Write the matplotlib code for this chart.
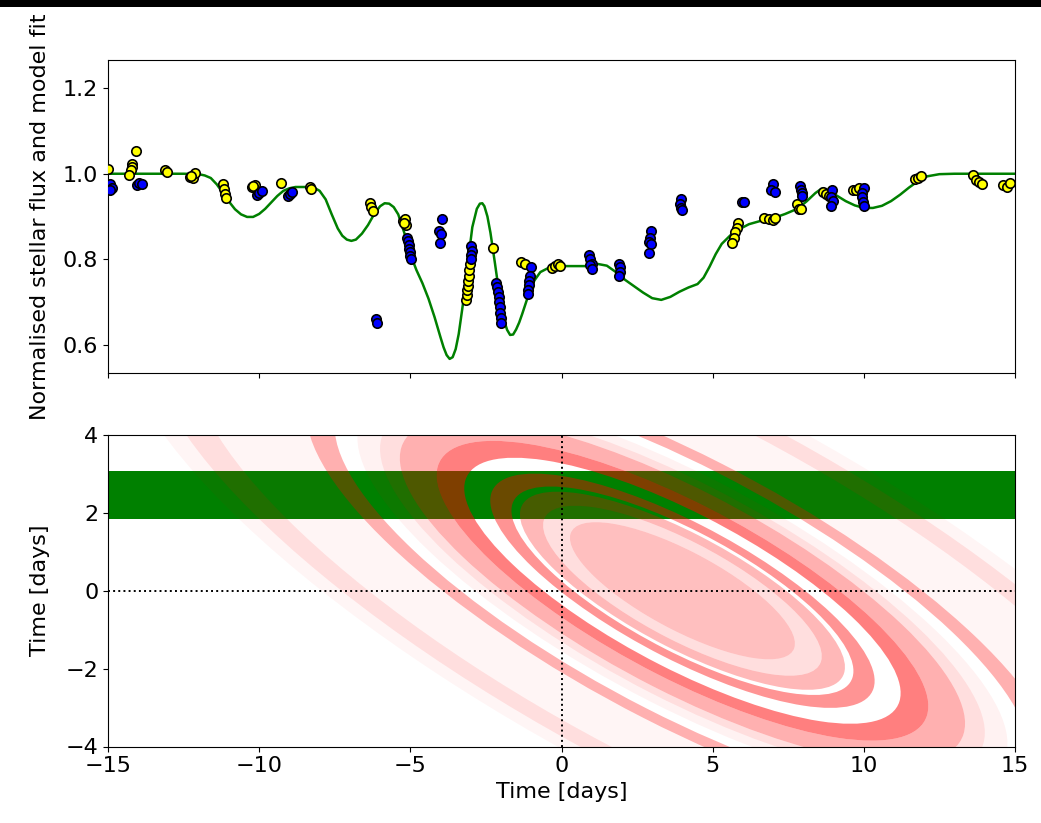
import numpy as np
import matplotlib
matplotlib.use("Agg")
import matplotlib.pyplot as plt
from matplotlib.path import Path
from matplotlib.patches import PathPatch, Rectangle
from matplotlib.transforms import Affine2D

# ---------------- data: light curve model ----------------
model_t = [-15.0, -12.5, -12.0, -11.8, -11.6, -11.4, -11.2, -11.0, -10.8, -10.6,
           -10.4, -10.2, -10.0, -9.8, -9.6, -9.4, -9.2, -9.0, -8.8, -8.5,
           -8.2, -8.0, -7.8, -7.6, -7.4, -7.25, -7.1, -6.95, -6.8, -6.6, -6.4,
           -6.2, -6.0, -5.85, -5.7, -5.55, -5.4, -5.2, -5.0, -4.8, -4.6, -4.4,
           -4.2, -4.0, -3.9, -3.8, -3.7, -3.6, -3.5, -3.4, -3.25, -3.1, -2.95, -2.8,
           -2.7, -2.62, -2.55, -2.45, -2.35, -2.2, -2.05, -1.9, -1.8, -1.7, -1.6,
           -1.5, -1.4, -1.3, -1.1, -0.9, -0.7, -0.4, 0.0, 0.5, 0.9, 1.2, 1.5, 1.8,
           2.1, 2.4, 2.7, 3.0, 3.3, 3.6, 3.9, 4.2, 4.5, 4.7,
           4.9, 5.1, 5.3, 5.6, 5.9, 6.2, 6.6, 7.0, 7.4, 7.8,
           8.1, 8.4, 8.6, 8.8, 9.1, 9.4, 9.7, 10.0, 10.3, 10.6,
           10.9, 11.2, 11.5, 11.8, 12.1, 12.5, 13.0, 15.0]
model_f = [1.000, 1.000, 0.999, 0.996, 0.990, 0.975, 0.955, 0.935, 0.917, 0.905,
           0.899, 0.899, 0.906, 0.918, 0.933, 0.948, 0.960, 0.966, 0.969, 0.969,
           0.968, 0.960, 0.940, 0.905, 0.872, 0.855, 0.846, 0.843, 0.846, 0.860, 0.880,
           0.905, 0.924, 0.931, 0.930, 0.922, 0.905, 0.862, 0.812, 0.775, 0.744, 0.708,
           0.665, 0.617, 0.594, 0.576, 0.567, 0.571, 0.590, 0.625, 0.700, 0.790, 0.875, 0.918,
           0.930, 0.931, 0.924, 0.900, 0.862, 0.790, 0.715, 0.658, 0.635, 0.623, 0.624,
           0.636, 0.652, 0.672, 0.715, 0.750, 0.770, 0.781, 0.784, 0.784, 0.784, 0.789, 0.785, 0.770,
           0.752, 0.737, 0.722, 0.709, 0.705, 0.712, 0.724, 0.734, 0.742, 0.757,
           0.783, 0.812, 0.836, 0.857, 0.871, 0.882, 0.890, 0.896, 0.906, 0.918,
           0.935, 0.955, 0.965, 0.962, 0.949, 0.936, 0.926, 0.920, 0.920, 0.925,
           0.936, 0.951, 0.968, 0.983, 0.994, 0.999, 1.000, 1.000]

# ---------------- data: photometry (two instruments) ----------------
yellow_t = [-15.0, -14.08, -14.19, -14.22, -14.25, -14.3, -13.12, -13.05,
            -12.3, -12.2, -12.12, -12.25, -11.2, -11.17, -11.14, -11.1,
            -10.25, -10.15, -10.2, -9.28, -8.32, -8.3,
            -6.34, -6.29, -6.22, -5.25, -5.18, -5.14, -5.2,
            -3.15, -3.13, -3.12, -3.1, -3.08, -3.07, -3.05, -3.03,
            -2.27, -1.33, -1.22, -0.32, -0.2, -0.1, -0.05,
            5.85, 5.8, 5.75, 5.7, 5.65, 6.7, 6.85, 7.0, 7.05,
            7.78, 7.85, 7.92, 8.65, 8.75, 8.85, 9.65, 9.75, 9.85,
            11.7, 11.8, 11.88, 13.6, 13.7, 13.8, 13.92, 14.6, 14.72, 14.85]
yellow_f = [1.012, 1.053, 1.022, 1.015, 1.008, 0.996, 1.008, 1.004,
            0.992, 0.990, 1.002, 0.994, 0.977, 0.965, 0.953, 0.943,
            0.969, 0.974, 0.972, 0.979, 0.970, 0.964,
            0.932, 0.923, 0.914, 0.890, 0.895, 0.880, 0.885,
            0.705, 0.716, 0.727, 0.738, 0.750, 0.762, 0.775, 0.790,
            0.826, 0.794, 0.789, 0.780, 0.785, 0.788, 0.784,
            0.885, 0.874, 0.864, 0.850, 0.838, 0.896, 0.894, 0.891, 0.897,
            0.930, 0.918, 0.917, 0.958, 0.952, 0.948, 0.961, 0.963, 0.966,
            0.988, 0.991, 0.995, 0.996, 0.986, 0.981, 0.977, 0.973, 0.968, 0.979]

blue_t = [-14.95, -14.87, -14.92, -14.05, -13.98, -13.88,
          -10.07, -10.0, -9.9, -9.05, -8.97, -8.9, -6.12, -6.1,
          -5.1, -5.07, -5.05, -5.03, -5.02, -5.0, -4.98,
          -3.96, -4.05, -3.98, -4.02, -2.98, -2.97, -3.0, -2.98,
          -2.15, -2.12, -2.1, -2.08, -2.07, -2.05, -2.02, -2.0, -1.99,
          -1.02, -1.05, -1.07, -1.09, -1.11, -1.12,
          0.9, 0.95, 1.0, 0.93, 1.0, 1.9, 1.95, 1.93, 1.9,
          2.95, 2.92, 2.9, 2.95, 2.9, 3.95, 3.92, 3.95, 4.0,
          5.96, 6.03, 7.0, 6.92, 7.05, 7.88, 7.92, 7.97, 7.95,
          8.95, 8.93, 8.97, 8.92, 10.0, 9.95, 9.95, 9.97, 10.0]
blue_f = [0.975, 0.967, 0.962, 0.974, 0.978, 0.977,
          0.950, 0.955, 0.959, 0.949, 0.953, 0.958, 0.660, 0.652,
          0.850, 0.842, 0.833, 0.825, 0.817, 0.808, 0.800,
          0.895, 0.867, 0.858, 0.837, 0.830, 0.820, 0.810, 0.800,
          0.745, 0.735, 0.724, 0.712, 0.700, 0.688, 0.675, 0.663, 0.652,
          0.783, 0.762, 0.750, 0.739, 0.728, 0.718,
          0.810, 0.800, 0.790, 0.786, 0.777, 0.790, 0.781, 0.770, 0.760,
          0.865, 0.850, 0.840, 0.835, 0.815, 0.940, 0.930, 0.920, 0.915,
          0.933, 0.933, 0.977, 0.962, 0.957, 0.972, 0.962, 0.954, 0.949,
          0.962, 0.946, 0.936, 0.925, 0.966, 0.955, 0.945, 0.935, 0.925]

# ---------------- data: ring system geometry ----------------
ring_center = (4.0, 0.0)
ring_tilt_deg = -21.6
ring_axis_ratio = 0.264
ring_inner = [0.0, 3.98, 4.93, 6.05, 7.72, 8.70, 10.0, 10.7, 12.3, 13.3, 17.4, 18.9]
ring_outer = [3.98, 4.93, 5.75, 6.80, 8.70, 10.0, 10.7, 11.5, 13.3, 17.4, 18.9, 20.0]
ring_alpha = [0.25, 0.13, 0.28, 0.42, 0.50, 0.31, 0.13, 0.05, 0.31, 0.04, 0.13, 0.04]
star_path = (1.83, 3.07)

xticks = [-15, -10, -5, 0, 5, 10, 15]
top_yticks = [0.6, 0.8, 1.0, 1.2]
bot_yticks = [-4, -2, 0, 2, 4]

# ---------------- figure ----------------
W, H = 1041, 823
fig = plt.figure(figsize=(W / 100, H / 100), dpi=100)
plt.rcParams['font.family'] = ['DejaVu Sans']
FS = 16

def axes_px(left, top, right, bottom):
    return [left / W, 1 - bottom / H, (right - left) / W, (bottom - top) / H]

ax1 = fig.add_axes(axes_px(108, 60, 1015, 373))
ax2 = fig.add_axes(axes_px(108, 435, 1015, 746.5))

# top panel
ax1.plot(model_t, model_f, color='green', lw=1.8, zorder=2,
         solid_joinstyle='round', solid_capstyle='round')
ax1.scatter(yellow_t, yellow_f, s=46, c='yellow', edgecolors='black', linewidths=1.2, zorder=3)
ax1.scatter(blue_t, blue_f, s=46, c='blue', edgecolors='black', linewidths=1.2, zorder=4)
ax1.set_xlim(-15, 15)
ax1.set_ylim(0.534, 1.266)
ax1.set_xticks(xticks)
ax1.set_xticklabels([])
ax1.set_yticks(top_yticks)
ax1.tick_params(labelsize=FS)
ax1.set_ylabel('Normalised stellar flux and model fit', fontsize=FS)
ax1.yaxis.set_label_coords(-0.064, 0.5)

# bottom panel
ax2.axhspan(star_path[0], star_path[1], color='green', lw=0, zorder=1)

base = Affine2D().scale(1.0, ring_axis_ratio).rotate_deg(ring_tilt_deg).translate(*ring_center)
circle = Path.unit_circle()

def ellipse_path(r):
    return circle.transformed(Affine2D().scale(r) + base)

for r_in, r_out, a in zip(ring_inner, ring_outer, ring_alpha):
    outer = ellipse_path(r_out)
    if r_in > 0:
        inner = ellipse_path(r_in)
        iv = np.vstack([inner.vertices[:-1][::-1], inner.vertices[:1]])
        verts = np.vstack([outer.vertices, iv])
        codes = np.concatenate([outer.codes, inner.codes])
        path = Path(verts, codes)
    else:
        path = outer
    ax2.add_patch(PathPatch(path, facecolor=(1, 0, 0, a), edgecolor='none', lw=0, zorder=2))

ax2.axvline(0, color='black', ls=':', lw=1.4, zorder=3)
ax2.axhline(0, color='black', ls=':', lw=1.4, zorder=3)
ax2.set_xlim(-15, 15)
ax2.set_ylim(-4, 4)
ax2.set_xticks(xticks)
ax2.set_yticks(bot_yticks)
ax2.tick_params(labelsize=FS)
ax2.set_xlabel('Time [days]', fontsize=FS)
ax2.set_ylabel('Time [days]', fontsize=FS)
ax2.yaxis.set_label_coords(-0.064, 0.5)

# dark strip along the top edge of the source image
fig.patches.append(Rectangle((0, 1 - 7 / H), 1, 7 / H, transform=fig.transFigure,
                             facecolor='black', edgecolor='none', zorder=10))

fig.savefig('out.png', dpi=100)
